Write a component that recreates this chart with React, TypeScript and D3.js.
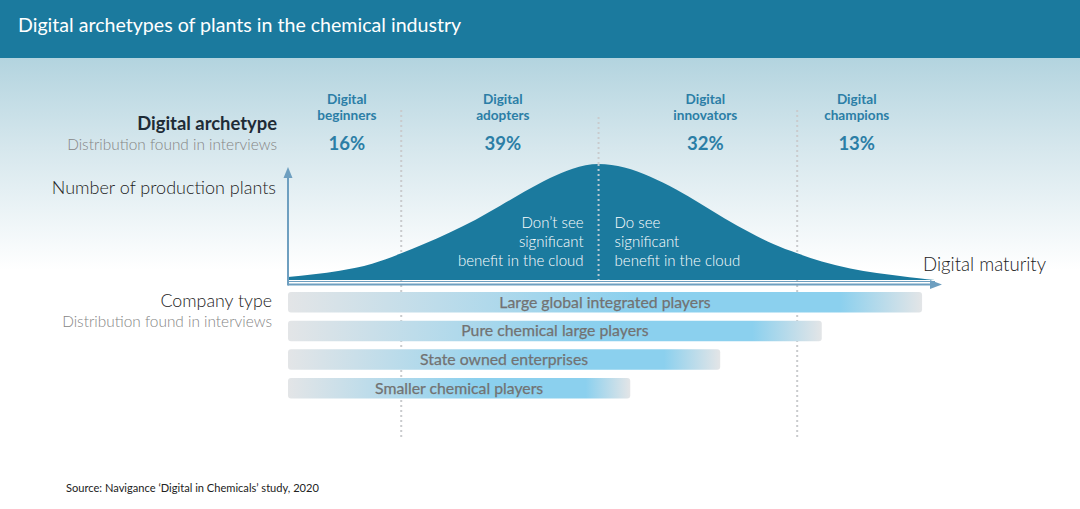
import React, { useEffect } from "react";
import * as d3 from "d3";

// ---- Data ----
const archetypes = ["Digital beginners", "Digital adopters", "Digital innovators", "Digital champions"];
const archetypeShares = ["16%", "39%", "32%", "13%"];
// label centre on the maturity axis (0..100)
const archetypeLabelPos = [9.1, 33.2, 64.5, 87.9];
// dotted segment boundaries on the maturity axis
const segmentBounds = [17.5, 48, 78.7];

// bell curve: maturity (0..100) vs number of plants (0..100 relative)
const curveMaturity = [0, 4, 8, 13, 17.5, 21, 25, 29, 32.8, 36.5, 40.5, 44, 48, 52, 56, 60, 63.7, 67.5, 71.4, 75, 78.7, 82.5, 86.9, 91, 94.6, 97.5, 100];
const curvePlants = [2.5, 5, 8, 14, 23, 31, 41, 52, 64, 76, 88, 96, 100, 97, 89, 78, 66, 53, 41, 31, 23, 16, 10, 6, 3.5, 1.5, 0];

const companyTypes = ["Large global integrated players", "Pure chemical large players", "State owned enterprises", "Smaller chemical players"];
const companyReach = [98, 82.5, 66.8, 52.9];

const leftNote = ["Don\u2019t see", "significant", "benefit in the cloud"];
const rightNote = ["Do see", "significant", "benefit in the cloud"];

const W = 1080;
const H = 509;
const FONT = "Lato, 'Open Sans', sans-serif";
const TEAL = "#1b7a9e";
const LABEL = "#2b7ea6";
const AXIS = "#6e9fc0";

export default function App() {
  useEffect(() => {
    document.body.style.margin = "0";
  }, []);

  const x = d3.scaleLinear().domain([0, 100]).range([288, 935]);
  const y = d3.scaleLinear().domain([0, 100]).range([280, 164]);

  const pts = curveMaturity.map((m, i) => [m, curvePlants[i]] as [number, number]);
  const area = d3
    .area<[number, number]>()
    .x((d) => x(d[0]))
    .y0(y(0))
    .y1((d) => y(d[1]))
    .curve(d3.curveMonotoneX);

  const barY = d3.scaleBand<string>().domain(companyTypes).range([292, 398.5]).paddingInner(0.28).paddingOuter(0);
  const axisY = 284.5;

  return (
    <svg width={W} height={H} style={{ display: "block", position: "absolute", left: 0, top: 0 }} fontFamily={FONT}>
      <defs>
        <linearGradient id="bg" x1="0" y1="0" x2="0" y2="1">
          <stop offset="0" stopColor="#b3d4df" />
          <stop offset="0.2" stopColor="#d6e7ed" />
          <stop offset="0.47" stopColor="#ffffff" />
        </linearGradient>
        <linearGradient id="bar" x1="0" y1="0" x2="1" y2="0">
          <stop offset="0" stopColor="#e3e5e7" />
          <stop offset="0.55" stopColor="#8bd0ee" />
          <stop offset="0.87" stopColor="#8bd0ee" />
          <stop offset="1" stopColor="#e3e5e7" />
        </linearGradient>
      </defs>

      <rect x={0} y={0} width={W} height={H} fill="#ffffff" />
      <rect x={0} y={58} width={W} height={H - 58} fill="url(#bg)" />
      <rect x={0} y={0} width={W} height={58} fill={TEAL} />
      <text x={18} y={32} fontSize={19.6} fill="#ffffff">
        Digital archetypes of plants in the chemical industry
      </text>

      {/* Left labels */}
      <text x={277} y={130} textAnchor="end" fontSize={18.4} fontWeight={700} fill="#1e2b36">
        Digital archetype
      </text>
      <text x={277} y={150} textAnchor="end" fontSize={15.4} fontWeight={300} fill="#858585">
        Distribution found in interviews
      </text>
      <text x={276} y={194} textAnchor="end" fontSize={18} fontWeight={300} fill="#222">
        Number of production plants
      </text>
      <text x={272} y={307} textAnchor="end" fontSize={17.8} fontWeight={300} fill="#222">
        Company type
      </text>
      <text x={272} y={327} textAnchor="end" fontSize={15.4} fontWeight={300} fill="#858585">
        Distribution found in interviews
      </text>

      {/* dotted separators */}
      {segmentBounds.map((b, i) => (
        <line
          key={i}
          x1={x(b)}
          x2={x(b)}
          y1={i === 1 ? 117 : 110}
          y2={i === 1 ? 280 : 440}
          stroke="#c9cbcd"
          strokeWidth={2}
          strokeDasharray="2,3"
        />
      ))}

      {/* curve */}
      <path d={area(pts) || ""} fill={TEAL} />
      <line x1={x(segmentBounds[1])} x2={x(segmentBounds[1])} y1={y(100)} y2={280} stroke="#b9c9d2" strokeWidth={2} strokeDasharray="2,3" />

      {/* archetype labels */}
      {archetypes.map((a, i) => {
        const [w1, w2] = a.split(" ");
        const cx = x(archetypeLabelPos[i]);
        return (
          <g key={a}>
            <text x={cx} y={104} textAnchor="middle" fontSize={13.6} fontWeight={700} fill={LABEL}>
              {w1}
            </text>
            <text x={cx} y={120} textAnchor="middle" fontSize={13.6} fontWeight={700} fill={LABEL}>
              {w2}
            </text>
            <text x={cx} y={150} textAnchor="middle" fontSize={18.5} fontWeight={700} fill={LABEL}>
              {archetypeShares[i]}
            </text>
          </g>
        );
      })}

      {/* notes inside curve */}
      {leftNote.map((t, i) => (
        <text key={"l" + i} x={x(segmentBounds[1]) - 15} y={228 + i * 19} textAnchor="end" fontSize={15} fontWeight={300} fill="#ffffff">
          {t}
        </text>
      ))}
      {rightNote.map((t, i) => (
        <text key={"r" + i} x={x(segmentBounds[1]) + 16} y={228 + i * 19} textAnchor="start" fontSize={15} fontWeight={300} fill="#ffffff">
          {t}
        </text>
      ))}

      {/* axes */}
      <line x1={x(0)} x2={x(100)} y1={281.5} y2={281.5} stroke={AXIS} strokeWidth={1} />
      <line x1={x(0)} x2={933} y1={axisY} y2={axisY} stroke={AXIS} strokeWidth={2} />
      <line x1={x(0)} x2={x(0)} y1={axisY + 1} y2={176} stroke={AXIS} strokeWidth={2} />
      <path d={`M${x(0) - 4.5},${178} L${x(0)},${167} L${x(0) + 4.5},${178} Z`} fill={AXIS} />
      <path d={`M${930},${axisY - 4.5} L${942},${axisY} L${930},${axisY + 4.5} Z`} fill={AXIS} />
      <text x={923} y={271} fontSize={18.6} fontWeight={300} fill="#222">
        Digital maturity
      </text>

      {/* company bars */}
      {companyTypes.map((c, i) => {
        const by = barY(c) as number;
        const bh = barY.bandwidth();
        const x0 = x(0);
        const x1 = x(companyReach[i]);
        return (
          <g key={c}>
            <rect x={x0} y={by} width={x1 - x0} height={bh} rx={3} fill="url(#bar)" />
            <text
              x={(x0 + x1) / 2}
              y={by + bh / 2 + 5.5}
              textAnchor="middle"
              fontSize={15.8}
              fontWeight={400}
              fill="#727272"
              stroke="#727272"
              strokeWidth={0.25}
            >
              {c}
            </text>
          </g>
        );
      })}

      <text x={66} y={492} fontSize={11.1} fill="#222">
        Source: Navigance ‘Digital in Chemicals’ study, 2020
      </text>
    </svg>
  );
}
